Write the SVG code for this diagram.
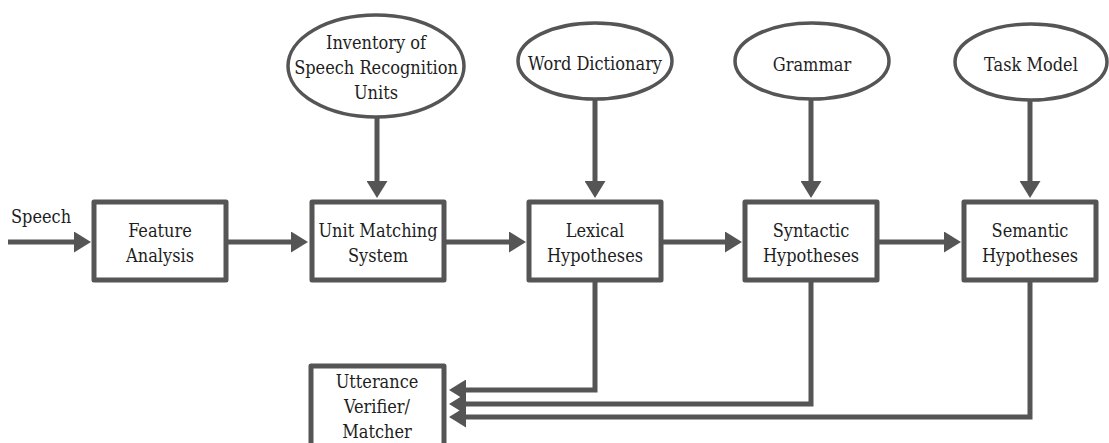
<svg xmlns="http://www.w3.org/2000/svg" width="1109" height="443" viewBox="0 0 1109 443">
  <style>
    .box { fill: #ffffff; stroke: #555555; stroke-width: 5; stroke-linejoin: round; }
    .oval { fill: #ffffff; stroke: #555555; stroke-width: 3.5; }
    .lbl { text-anchor: middle; }
    .edge { fill: none; stroke: #555555; stroke-width: 5; stroke-linejoin: miter; marker-end: url(#head); }
  </style>
  <defs>
    <marker id="head" markerUnits="userSpaceOnUse" markerWidth="17" markerHeight="21" refX="9" refY="10.5" orient="auto">
      <path d="M0,0 L17,10.5 L0,21 Z" fill="#555555"/>
    </marker>
  </defs>

  <rect width="1109" height="443" fill="#ffffff"/>

  <g font-family="DejaVu Serif Condensed, DejaVu Serif, serif" font-stretch="condensed" font-size="18" fill="#1e1e1e">
    <!-- knowledge sources -->
    <g id="inventory">
      <ellipse class="oval" cx="376" cy="66" rx="88" ry="51"/>
      <text class="lbl" x="376" y="49">Inventory of</text>
      <text class="lbl" x="376" y="74">Speech Recognition</text>
      <text class="lbl" x="376" y="99">Units</text>
    </g>
    <g id="word-dictionary">
      <ellipse class="oval" cx="595" cy="61" rx="77" ry="38"/>
      <text class="lbl" x="595" y="70">Word Dictionary</text>
    </g>
    <g id="grammar">
      <ellipse class="oval" cx="812" cy="61" rx="77" ry="38"/>
      <text class="lbl" x="812" y="71">Grammar</text>
    </g>
    <g id="task-model">
      <ellipse class="oval" cx="1031" cy="62" rx="76" ry="38"/>
      <text class="lbl" x="1031" y="71">Task Model</text>
    </g>

    <!-- processing stages -->
    <g id="speech-input">
      <text x="11" y="223">Speech</text>
    </g>
    <g id="feature-analysis">
      <rect class="box" x="94" y="202" width="132" height="78"/>
      <text class="lbl" x="160" y="237">Feature</text>
      <text class="lbl" x="160" y="262">Analysis</text>
    </g>
    <g id="unit-matching">
      <rect class="box" x="312" y="202" width="132" height="78"/>
      <text class="lbl" x="378" y="237">Unit Matching</text>
      <text class="lbl" x="378" y="262">System</text>
    </g>
    <g id="lexical">
      <rect class="box" x="529" y="202" width="132" height="78"/>
      <text class="lbl" x="595" y="237">Lexical</text>
      <text class="lbl" x="595" y="262">Hypotheses</text>
    </g>
    <g id="syntactic">
      <rect class="box" x="745" y="202" width="132" height="78"/>
      <text class="lbl" x="811" y="237">Syntactic</text>
      <text class="lbl" x="811" y="262">Hypotheses</text>
    </g>
    <g id="semantic">
      <rect class="box" x="964" y="202" width="132" height="78"/>
      <text class="lbl" x="1030" y="237">Semantic</text>
      <text class="lbl" x="1030" y="262">Hypotheses</text>
    </g>
    <g id="utterance-verifier">
      <rect class="box" x="311" y="366" width="133" height="95"/>
      <text class="lbl" x="377" y="388">Utterance</text>
      <text class="lbl" x="377" y="413">Verifier/</text>
      <text class="lbl" x="377" y="438">Matcher</text>
    </g>
  </g>

  <!-- connectors -->
  <g id="connectors">
    <path class="edge" d="M8,242 H83"/>
    <path class="edge" d="M228,242 H300"/>
    <path class="edge" d="M446,242 H518"/>
    <path class="edge" d="M663,242 H734"/>
    <path class="edge" d="M879,242 H953"/>

    <path class="edge" d="M377,117 V190"/>
    <path class="edge" d="M595,99 V190"/>
    <path class="edge" d="M811,99 V190"/>
    <path class="edge" d="M1030,100 V190"/>

    <path class="edge" d="M595,282 V390 H457"/>
    <path class="edge" d="M811,282 V404 H457"/>
    <path class="edge" d="M1030,282 V417 H457"/>
  </g>
</svg>
